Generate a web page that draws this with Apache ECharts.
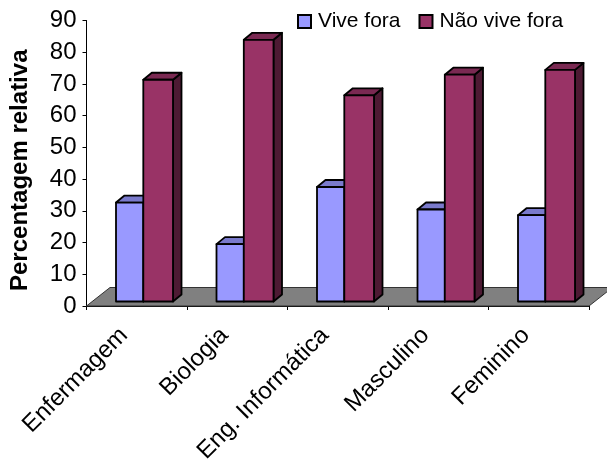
<!DOCTYPE html>
<html>
<head>
<meta charset="utf-8">
<style>html,body{margin:0;padding:0;background:#fff}#c{width:607px;height:459px}</style>
<script src="https://cdn.jsdelivr.net/npm/echarts@6/dist/echarts.min.js"></script>
</head>
<body>
<div id="c"></div>
<script>
const categories = ['Enfermagem', 'Biologia', 'Eng. Informática', 'Masculino', 'Feminino'];
const viveFora = [31.2, 18.1, 36.1, 29.0, 27.2];
const naoViveFora = [69.9, 82.5, 65.0, 71.5, 73.0];
const yTicks = { min: 0, max: 90, interval: 10 };

const FONT = '"Liberation Sans", Arial, sans-serif';
const DEPTH_X = 8.5, DEPTH_Y = 7;   // oblique depth of the bars
const BASE_LIFT = 4.5;              // bars stand slightly inside the floor

// One oblique box: front face, top face and right side face.
function box(x, yTop, w, yBase, colors) {
  const stroke = { stroke: '#000', lineWidth: 1.8, lineJoin: 'round' };
  const poly = (points, fill) => ({ type: 'polygon', shape: { points }, style: { fill, ...stroke } });
  return {
    type: 'group',
    children: [
      poly([[x + w, yTop], [x + w + DEPTH_X, yTop - DEPTH_Y], [x + w + DEPTH_X, yBase - DEPTH_Y], [x + w, yBase]], colors.side),
      poly([[x, yTop], [x + DEPTH_X, yTop - DEPTH_Y], [x + w + DEPTH_X, yTop - DEPTH_Y], [x + w, yTop]], colors.top),
      poly([[x, yTop], [x + w, yTop], [x + w, yBase], [x, yBase]], colors.front)
    ]
  };
}

function barRenderer(offset, width, colors) {
  return (params, api) => {
    const p = api.coord([api.value(0), api.value(1)]);
    const base = api.coord([api.value(0), 0]);
    return box(p[0] + offset, p[1] - BASE_LIFT, width, base[1] - BASE_LIFT, colors);
  };
}

// Grey floor plane spanning the plot width behind the bars.
function floorRenderer(params) {
  const g = params.coordSys;
  const bottom = g.y + g.height;
  const back = bottom - 18.5;
  return {
    type: 'polygon',
    shape: { points: [[g.x, bottom], [g.x + 23.5, back], [g.x + g.width + 23.5, back], [g.x + g.width, bottom]] },
    style: { fill: '#808080', stroke: '#333', lineWidth: 1 }
  };
}

const chart = echarts.init(document.getElementById('c'), null, { renderer: 'canvas' });
chart.setOption({
  animation: false,
  backgroundColor: '#fff',
  grid: { left: 86.5, right: 18, top: 20.5, bottom: 153, outerBoundsMode: 'none' },
  legend: {
    left: 297, top: 11, padding: 0, itemWidth: 13, itemHeight: 13, itemGap: 18,
    textStyle: { fontFamily: FONT, fontSize: 21, color: '#000', padding: [0, 0, 6, 2] },
    data: [
      { name: 'Vive fora', icon: 'rect' },
      { name: 'Não vive fora', icon: 'rect' }
    ]
  },
  xAxis: {
    type: 'category',
    data: categories,
    axisLine: { lineStyle: { color: '#000', width: 1 } },
    axisTick: { show: true, length: 4, lineStyle: { color: '#000' } },
    axisLabel: { rotate: 45, interval: 0, margin: 13, padding: [0, 18, 0, 0], fontFamily: FONT, fontSize: 24, color: '#000' }
  },
  yAxis: {
    type: 'value',
    min: yTicks.min, max: yTicks.max, interval: yTicks.interval,
    name: 'Percentagem relativa',
    nameLocation: 'middle',
    nameGap: 54,
    nameTextStyle: { fontFamily: FONT, fontSize: 24, fontWeight: 'bold', color: '#000', padding: [0, 14, 0, 0] },
    axisLine: { show: true, lineStyle: { color: '#000', width: 1 } },
    axisTick: { show: true, length: 4, lineStyle: { color: '#000' } },
    splitLine: { show: false },
    axisLabel: { margin: 10, fontFamily: FONT, fontSize: 24, color: '#000' }
  },
  series: [
    {
      type: 'custom', name: 'floor', silent: true, clip: false, z: 1,
      data: [[0, 0]], renderItem: floorRenderer, encode: { x: 0, y: 1 }
    },
    {
      type: 'custom', name: 'Vive fora', clip: false, z: 2,
      itemStyle: { color: '#9999ff', borderColor: '#000', borderWidth: 1.8 },
      data: viveFora.map((v, i) => [i, v]),
      encode: { x: 0, y: 1 },
      renderItem: barRenderer(-20.75, 27.3, { front: '#9999ff', top: '#7a7acc', side: '#4d4d80' })
    },
    {
      type: 'custom', name: 'Não vive fora', clip: false, z: 3,
      itemStyle: { color: '#993366', borderColor: '#000', borderWidth: 1.8 },
      data: naoViveFora.map((v, i) => [i, v]),
      encode: { x: 0, y: 1 },
      renderItem: barRenderer(6.55, 29.7, { front: '#993366', top: '#7a2952', side: '#4d1a33' })
    }
  ]
});
</script>
</body>
</html>
